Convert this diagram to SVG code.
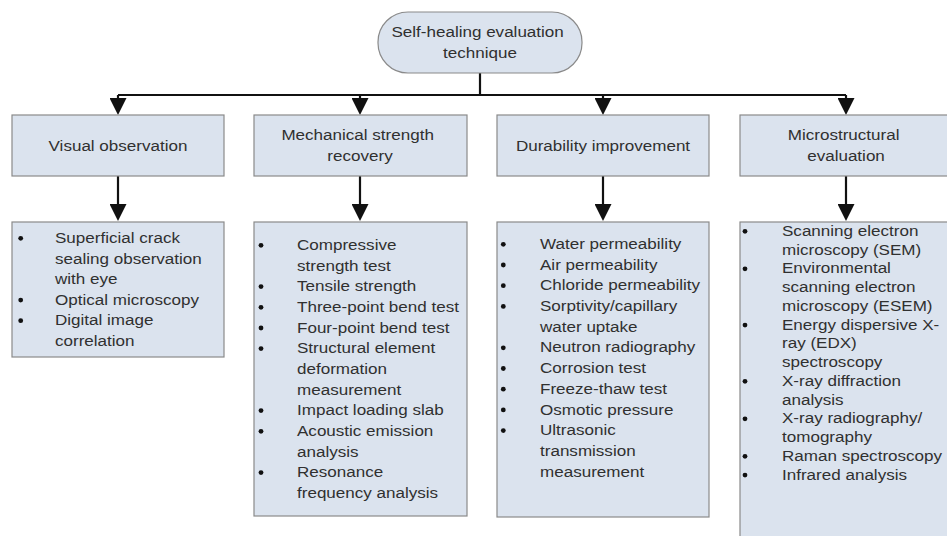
<svg xmlns="http://www.w3.org/2000/svg" width="947" height="536" viewBox="0 0 947 536">
  <style>
    .box { fill: #dbe3ee; stroke: #8a8a8a; stroke-width: 1.2; }
    .t { font-family: "Liberation Sans", Arial, sans-serif; font-size: 15.5px; fill: #303030; }
    .c { text-anchor: middle; }
    .wire { fill: none; stroke: #111; stroke-width: 2.2; }
    .dot { fill: #111; }
  </style>
  <defs>
    <marker id="head" viewBox="0 -8.5 17 17" refX="8" refY="0" markerWidth="17" markerHeight="17" markerUnits="userSpaceOnUse" orient="auto">
      <path d="M0,-8.5 L17,0 L0,8.5 z" fill="#111"/>
    </marker>
    <circle id="bullet" class="dot" r="2.4"/>
  </defs>

  <!-- connectors -->
  <g id="connectors">
    <path class="wire" d="M480,73 V95"/>
    <path class="wire" d="M118,95 H846"/>
    <path class="wire" d="M118,95 V106" marker-end="url(#head)"/>
    <path class="wire" d="M360,95 V106" marker-end="url(#head)"/>
    <path class="wire" d="M603,95 V106" marker-end="url(#head)"/>
    <path class="wire" d="M846,95 V106" marker-end="url(#head)"/>
    <path class="wire" d="M118,176 V212" marker-end="url(#head)"/>
    <path class="wire" d="M360,176 V212" marker-end="url(#head)"/>
    <path class="wire" d="M603,176 V212" marker-end="url(#head)"/>
    <path class="wire" d="M846,176 V212" marker-end="url(#head)"/>
  </g>

  <!-- root -->
  <g id="root">
    <rect class="box" x="378" y="12" width="204" height="61" rx="30" ry="30"/>
    <text class="t c" transform="translate(480,37) scale(1.1,1)">
      <tspan x="0" y="0">Self-healing evaluation</tspan>
      <tspan x="0" y="21">technique</tspan>
    </text>
  </g>

  <!-- categories -->
  <g id="visual">
    <rect class="box" x="12" y="115" width="212" height="61"/>
    <text class="t c" transform="translate(118,151) scale(1.1,1)">Visual observation</text>
  </g>
  <g id="mechanical">
    <rect class="box" x="254" y="115" width="213" height="61"/>
    <text class="t c" transform="translate(360,140) scale(1.1,1)">
      <tspan x="0" y="0">Mechanical strength</tspan>
      <tspan x="0" y="21">recovery</tspan>
    </text>
  </g>
  <g id="durability">
    <rect class="box" x="497" y="115" width="212" height="61"/>
    <text class="t c" transform="translate(603,151) scale(1.1,1)">Durability improvement</text>
  </g>
  <g id="microstructural">
    <rect class="box" x="740" y="115" width="212" height="61"/>
    <text class="t c" transform="translate(846,140) scale(1.1,1)">
      <tspan x="0" y="0">Microstructural</tspan>
      <tspan x="0" y="21">evaluation</tspan>
    </text>
  </g>

  <!-- technique lists -->
  <g id="visual-list">
    <rect class="box" x="12" y="222" width="212" height="135"/>
    <g transform="translate(20.7,238.3)">
      <use href="#bullet" y="0"/>
      <use href="#bullet" y="61.8"/>
      <use href="#bullet" y="82.4"/>
    </g>
    <text class="t" transform="translate(55,243) scale(1.1,1)">
      <tspan x="0" y="0">Superficial crack</tspan>
      <tspan x="0" y="20.6">sealing observation</tspan>
      <tspan x="0" y="41.2">with eye</tspan>
      <tspan x="0" y="61.8">Optical microscopy</tspan>
      <tspan x="0" y="82.4">Digital image</tspan>
      <tspan x="0" y="103">correlation</tspan>
    </text>
  </g>

  <g id="mechanical-list">
    <rect class="box" x="254" y="222" width="213" height="294"/>
    <g transform="translate(261,245.3)">
      <use href="#bullet" y="0"/>
      <use href="#bullet" y="41.3"/>
      <use href="#bullet" y="62"/>
      <use href="#bullet" y="82.7"/>
      <use href="#bullet" y="103.3"/>
      <use href="#bullet" y="165.3"/>
      <use href="#bullet" y="186"/>
      <use href="#bullet" y="227.3"/>
    </g>
    <text class="t" transform="translate(297,250) scale(1.1,1)">
      <tspan x="0" y="0">Compressive</tspan>
      <tspan x="0" y="20.7">strength test</tspan>
      <tspan x="0" y="41.3">Tensile strength</tspan>
      <tspan x="0" y="62">Three-point bend test</tspan>
      <tspan x="0" y="82.7">Four-point bend test</tspan>
      <tspan x="0" y="103.3">Structural element</tspan>
      <tspan x="0" y="124">deformation</tspan>
      <tspan x="0" y="144.7">measurement</tspan>
      <tspan x="0" y="165.3">Impact loading slab</tspan>
      <tspan x="0" y="186">Acoustic emission</tspan>
      <tspan x="0" y="206.7">analysis</tspan>
      <tspan x="0" y="227.3">Resonance</tspan>
      <tspan x="0" y="248">frequency analysis</tspan>
    </text>
  </g>

  <g id="durability-list">
    <rect class="box" x="497" y="222" width="212" height="295"/>
    <g transform="translate(503.3,244.3)">
      <use href="#bullet" y="0"/>
      <use href="#bullet" y="20.7"/>
      <use href="#bullet" y="41.4"/>
      <use href="#bullet" y="62.1"/>
      <use href="#bullet" y="103.5"/>
      <use href="#bullet" y="124.2"/>
      <use href="#bullet" y="144.9"/>
      <use href="#bullet" y="165.6"/>
      <use href="#bullet" y="186.3"/>
    </g>
    <text class="t" transform="translate(540,249) scale(1.1,1)">
      <tspan x="0" y="0">Water permeability</tspan>
      <tspan x="0" y="20.7">Air permeability</tspan>
      <tspan x="0" y="41.4">Chloride permeability</tspan>
      <tspan x="0" y="62.1">Sorptivity/capillary</tspan>
      <tspan x="0" y="82.8">water uptake</tspan>
      <tspan x="0" y="103.5">Neutron radiography</tspan>
      <tspan x="0" y="124.2">Corrosion test</tspan>
      <tspan x="0" y="144.9">Freeze-thaw test</tspan>
      <tspan x="0" y="165.6">Osmotic pressure</tspan>
      <tspan x="0" y="186.3">Ultrasonic</tspan>
      <tspan x="0" y="207">transmission</tspan>
      <tspan x="0" y="227.7">measurement</tspan>
    </text>
  </g>

  <g id="microstructural-list">
    <rect class="box" x="740" y="222" width="212" height="330"/>
    <g transform="translate(745,231.3)">
      <use href="#bullet" y="0"/>
      <use href="#bullet" y="37.5"/>
      <use href="#bullet" y="93.8"/>
      <use href="#bullet" y="150"/>
      <use href="#bullet" y="187.5"/>
      <use href="#bullet" y="225"/>
      <use href="#bullet" y="243.8"/>
    </g>
    <text class="t" transform="translate(782,236) scale(1.1,1)">
      <tspan x="0" y="0">Scanning electron</tspan>
      <tspan x="0" y="18.8">microscopy (SEM)</tspan>
      <tspan x="0" y="37.5">Environmental</tspan>
      <tspan x="0" y="56.3">scanning electron</tspan>
      <tspan x="0" y="75">microscopy (ESEM)</tspan>
      <tspan x="0" y="93.8">Energy dispersive X-</tspan>
      <tspan x="0" y="112.5">ray (EDX)</tspan>
      <tspan x="0" y="131.3">spectroscopy</tspan>
      <tspan x="0" y="150">X-ray diffraction</tspan>
      <tspan x="0" y="168.8">analysis</tspan>
      <tspan x="0" y="187.5">X-ray radiography/</tspan>
      <tspan x="0" y="206.3">tomography</tspan>
      <tspan x="0" y="225">Raman spectroscopy</tspan>
      <tspan x="0" y="243.8">Infrared analysis</tspan>
    </text>
  </g>
</svg>
